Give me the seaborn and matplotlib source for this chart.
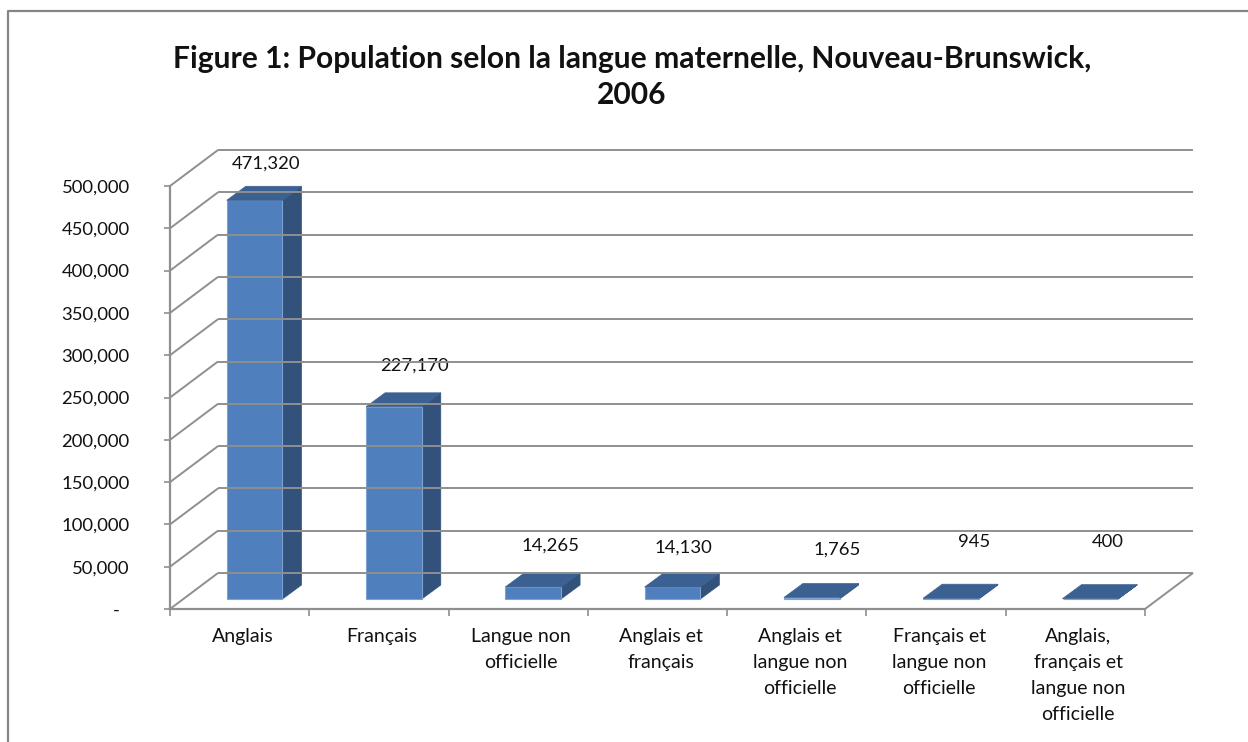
import matplotlib
matplotlib.use("Agg")
import matplotlib.pyplot as plt
import seaborn as sns
from matplotlib.lines import Line2D
from matplotlib.patches import Polygon
from matplotlib.transforms import Affine2D, IdentityTransform

categories = ["Anglais", "Français", "Langue non\nofficielle", "Anglais et\nfrançais",
              "Anglais et\nlangue non\nofficielle", "Français et\nlangue non\nofficielle",
              "Anglais,\nfrançais et\nlangue non\nofficielle"]
values = [471320, 227170, 14265, 14130, 1765, 945, 400]
value_labels = ["471,320", "227,170", "14,265", "14,130", "1,765", "945", "400"]
y_ticks = [0, 50000, 100000, 150000, 200000, 250000, 300000, 350000, 400000, 450000, 500000]
y_tick_labels = ["-  "] + [f"{v:,}" for v in y_ticks[1:]]
title = "Figure 1: Population selon la langue maternelle, Nouveau-Brunswick,\n2006"
label_offsets = [(26, 47), (36, 51), (32, 51), (26, 49), (40, 58), (38, 66), (32, 67)]

W, H = 1248, 742
FONT = "Lato"
GRID = "#8f8f8f"
sns.set_theme(style="white")
plt.rcParams["font.family"] = [FONT, "DejaVu Sans"]

fig = plt.figure(figsize=(W / 100, H / 100), dpi=100, facecolor="white")
ax = fig.add_axes([170 / W, (H - 609) / H, 975 / W, 423 / H])
ax.set_facecolor("none")
sns.barplot(x=categories, y=values, order=categories, color="#4f7fbd", saturation=1, width=0.4,
            ax=ax, zorder=5)
ax.set_xlim(-0.5, 6.5)
ax.set_ylim(0, 500000)

DX, DY = 48, 36       # depth of the chart box, in pixels
BX, BY = 19, 14       # depth of each bar
SX, SY = 15, 10       # shift of the bars off the front plane
ident = IdentityTransform()


def px(x, y):
    return ax.transData.transform((x, y))


def seg(p, q):
    fig.add_artist(Line2D([p[0], q[0]], [p[1], q[1]], transform=ident, color=GRID, lw=1.4,
                          solid_capstyle="butt", zorder=1))


# gridlines, side wall and floor
for v in y_ticks:
    a = px(-0.5, v)
    b = a + (DX, DY)
    c = px(6.5, v) + (DX, DY)
    seg(a, b)
    seg(b, c)
r0 = px(6.5, 0)
seg(r0, r0 + (DX, DY))

# bars: front shifted inside the box, side and top faces derived from values
shift = Affine2D().translate(SX, SY)
for bar, v in zip(list(ax.patches), values):
    bar.set_transform(ax.transData + shift)
    bar.set_edgecolor("#7ba3d4")
    bar.set_linewidth(0.8)
    bar.set_zorder(5)
    x0, x1 = bar.get_x(), bar.get_x() + bar.get_width()
    bl, br = px(x0, 0) + (SX, SY), px(x1, 0) + (SX, SY)
    tl, tr = px(x0, v) + (SX, SY), px(x1, v) + (SX, SY)
    d = (BX, BY)
    ax.add_patch(Polygon([br, tr, tr + d, br + d], closed=True, transform=ident,
                         fc="#32527c", ec="#32527c", lw=0.5, zorder=4, clip_on=False))
    ax.add_patch(Polygon([tl, tr, tr + d, tl + d], closed=True, transform=ident,
                         fc="#3b6192", ec="#3b6192", lw=0.5, zorder=6, clip_on=False))

# axes
for s in ("top", "right"):
    ax.spines[s].set_visible(False)
for s in ("left", "bottom"):
    ax.spines[s].set_color(GRID)
    ax.spines[s].set_linewidth(1.6)
ax.set_yticks(y_ticks)
ax.set_yticklabels(y_tick_labels)
ax.tick_params(axis="y", length=4, width=1.2, color=GRID, labelsize=13.3,
               labelcolor="#111111", pad=25, left=True)
ax.set_xticks(range(len(categories)))
ax.set_xticklabels(categories, linespacing=1.64)
ax.tick_params(axis="x", which="major", length=0, labelsize=14, labelcolor="#111111", pad=14)
ax.set_xticks([i - 0.5 for i in range(len(categories) + 1)], minor=True)
ax.tick_params(axis="x", which="minor", length=5, width=1.2, color=GRID, bottom=True)
for lab in ax.get_xticklabels():
    lab.set_transform(lab.get_transform() + Affine2D().translate(3, 0))

# value labels
for i, (v, t, off) in enumerate(zip(values, value_labels, label_offsets)):
    ax.annotate(t, xy=(i, v), xytext=(off[0] * 0.72, off[1] * 0.72), textcoords="offset points",
                ha="center", va="center", fontsize=13.3, color="#111111", zorder=8)

# title and outer frame
fig.text(632 / W, 1 - 77 / H, title, ha="center", va="center", fontsize=21.6, fontweight="bold",
         color="#111111", linespacing=1.35)
fig.add_artist(Line2D([8, 8, W], [0, H - 10.5, H - 10.5], transform=ident, color="#858585", lw=1.6))

fig.savefig("out.png", dpi=100)
